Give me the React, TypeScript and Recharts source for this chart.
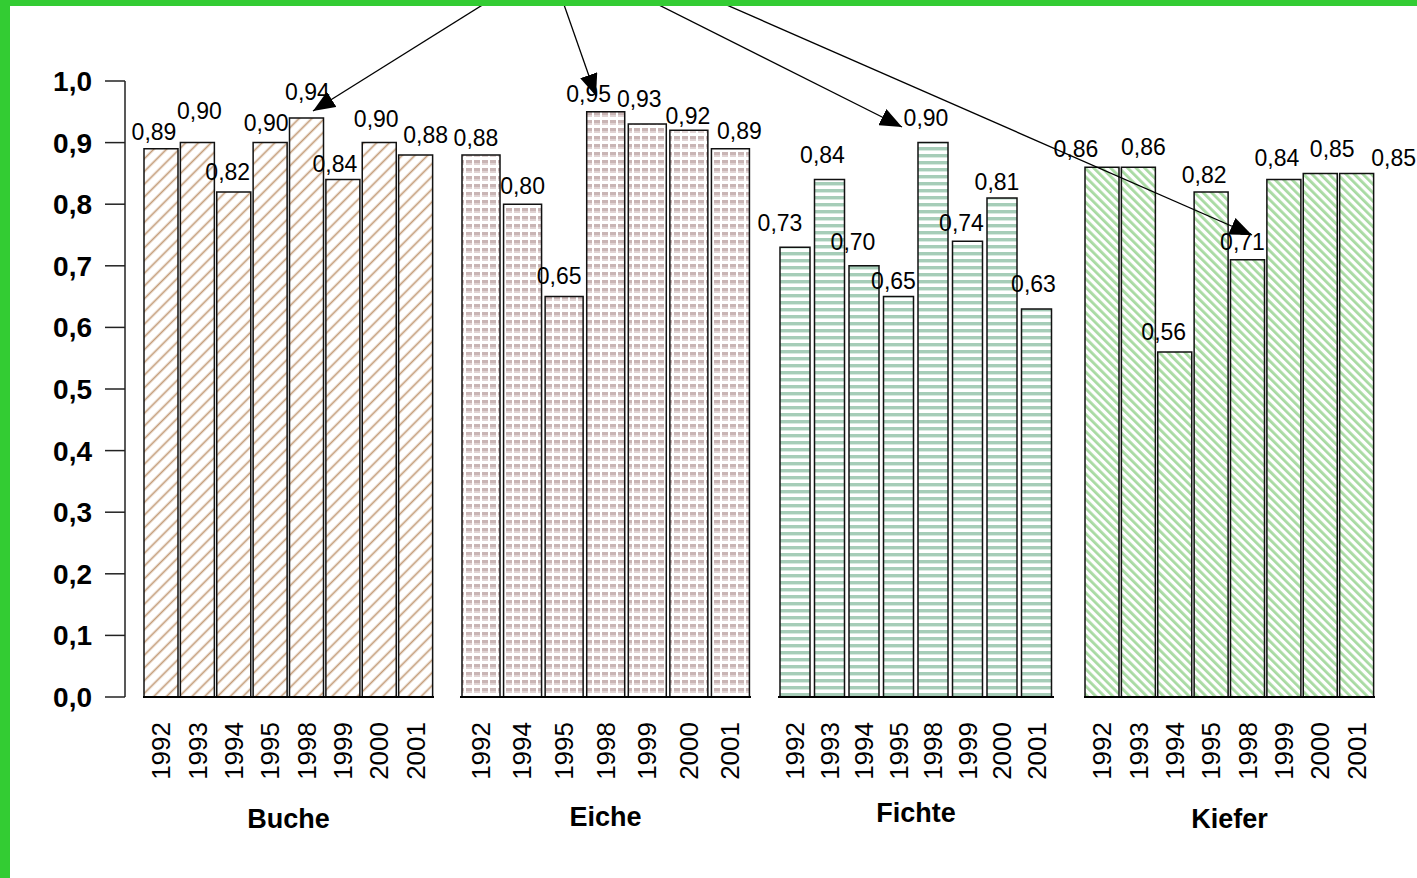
import React from 'react';
import { BarChart, Bar, XAxis, YAxis, LabelList, Label } from 'recharts';

// ---------------- data ----------------
const yTicks = [0, 0.1, 0.2, 0.3, 0.4, 0.5, 0.6, 0.7, 0.8, 0.9, 1.0];

const bucheYears = ['1992', '1993', '1994', '1995', '1998', '1999', '2000', '2001'];
const bucheValues = [0.89, 0.90, 0.82, 0.90, 0.94, 0.84, 0.90, 0.88];

const eicheYears = ['1992', '1994', '1995', '1998', '1999', '2000', '2001'];
const eicheValues = [0.88, 0.80, 0.65, 0.95, 0.93, 0.92, 0.89];

const fichteYears = ['1992', '1993', '1994', '1995', '1998', '1999', '2000', '2001'];
const fichteValues = [0.73, 0.84, 0.70, 0.65, 0.90, 0.74, 0.81, 0.63];

const kieferYears = ['1992', '1993', '1994', '1995', '1998', '1999', '2000', '2001'];
const kieferValues = [0.86, 0.86, 0.56, 0.82, 0.71, 0.84, 0.85, 0.85];

const groupNames = ['Buche', 'Eiche', 'Fichte', 'Kiefer'];

// ---------------- layout ----------------
const FONT = '"Liberation Sans", Arial, sans-serif';
const W = 1417;
const H = 878;
const PLOT_TOP = 81;
const X_AXIS_H = 135;
const BOTTOM = 46;
const SIDE = 50; // extra room at each side of a group so value labels are not clipped
const LABEL_GAP = 13;

// value-label nudges (as placed in the original figure)
const bucheNudge = { dx: [-7, 2, -6, -4, 1, -8, -3, 10], dy: [4, -11, 1, 1, -5, 5, -3, 1] };
const eicheNudge = { dx: [-5, 0, -5, -17, -8, -1, 9], dy: [4, 3, 0, 3, -4, 7, 3] };
const fichteNudge = { dx: [-15, -7, -11, -5, -7, -6, -5, -3], dy: [-3, -4, -3, 5, -4, 3, 5, -4] };
const kieferNudge = { dx: [-26, 5, -11, -7, -5, -7, 12, 37], dy: [3, 1, 1, 4, 3, -1, -3, 6] };

const groups = [
  { name: groupNames[0], years: bucheYears, values: bucheValues, nudge: bucheNudge, left: 143, width: 291, barSize: 34, labelOffset: 4, fill: 'url(#pBuche)' },
  { name: groupNames[1], years: eicheYears, values: eicheValues, nudge: eicheNudge, left: 460, width: 291, barSize: 38, labelOffset: 6, fill: 'url(#pEiche)' },
  { name: groupNames[2], years: fichteYears, values: fichteValues, nudge: fichteNudge, left: 778, width: 276, barSize: 30, labelOffset: 10, fill: 'url(#pFichte)' },
  { name: groupNames[3], years: kieferYears, values: kieferValues, nudge: kieferNudge, left: 1084, width: 291, barSize: 34, labelOffset: 4, fill: 'url(#pKiefer)' },
];

// annotation arrows (drawn on top of the chart)
const arrows = [
  { x1: 492, y1: -1, x2: 313, y2: 111 },
  { x1: 562, y1: -1, x2: 596, y2: 96 },
  { x1: 647, y1: -1, x2: 902, y2: 127 },
  { x1: 713, y1: -1, x2: 1252, y2: 235 },
];

const fmt2 = (v: any) => Number(v).toFixed(2).replace('.', ',');
const fmt1 = (v: any) => Number(v).toFixed(1).replace('.', ',');

const YearTick = (props: any) => {
  const { x, y, payload } = props;
  return (
    <text
      transform={`translate(${x + 9},${y + 25}) rotate(-90)`}
      textAnchor="end"
      fontSize={26}
      fontFamily={FONT}
      fill="#000"
    >
      {payload.value}
    </text>
  );
};

const makeValueLabel = (nudge: { dx: number[]; dy: number[] }) => (props: any) => {
  const vb = props.viewBox && props.viewBox.width !== undefined ? props.viewBox : props;
  const idx = typeof props.index === 'number' ? props.index : 0;
  const cx = Number(vb.x) + Number(vb.width) / 2 + (nudge.dx[idx] || 0);
  const top = Number(vb.y);
  return (
    <text
      x={cx}
      y={top - LABEL_GAP + (nudge.dy[idx] || 0)}
      textAnchor="middle"
      fontSize={23}
      fontFamily={FONT}
      fill="#000"
    >
      {fmt2(props.value)}
    </text>
  );
};

const Patterns = () => (
  <svg width={0} height={0} style={{ position: 'absolute', left: 0, top: 0 }}>
    <defs>
      <pattern id="pBuche" width={9} height={9} patternUnits="userSpaceOnUse" patternTransform="rotate(45)">
        <rect width={9} height={9} fill="#fff" />
        <line x1={4.5} y1={0} x2={4.5} y2={9} stroke="#c39c78" strokeWidth={1.7} />
      </pattern>
      <pattern id="pEiche" width={8} height={8} patternUnits="userSpaceOnUse">
        <rect width={8} height={8} fill="#fff" />
        <rect x={0} y={0} width={6} height={3} fill="#c9b5b5" />
        <rect x={0} y={3} width={6} height={2} fill="#e0d3d3" />
      </pattern>
      <pattern id="pFichte" width={6} height={7} patternUnits="userSpaceOnUse">
        <rect width={6} height={7} fill="#fff" />
        <rect x={0} y={0} width={6} height={3} fill="#a6cdb8" />
        <rect x={0} y={3} width={6} height={1} fill="#d8eae0" />
      </pattern>
      <pattern id="pKiefer" width={6} height={6} patternUnits="userSpaceOnUse" patternTransform="rotate(-45)">
        <rect width={6} height={6} fill="#fff" />
        <rect x={0} y={0} width={2.8} height={6} fill="#a8daa2" />
      </pattern>
    </defs>
  </svg>
);

const YAxisChart = () => {
  const rows = bucheYears.map((year, i) => ({ year, v: bucheValues[i] }));
  return (
    <div style={{ position: 'absolute', left: 0, top: 0 }}>
      <BarChart
        width={145}
        height={H}
        data={rows}
        margin={{ top: PLOT_TOP, right: 0, bottom: BOTTOM + X_AXIS_H, left: 0 }}
      >
        <XAxis dataKey="year" hide />
        <YAxis
          type="number"
          domain={[0, 1]}
          allowDataOverflow={true}
          ticks={yTicks}
          interval={0}
          width={125}
          tickSize={20}
          tickMargin={13}
          tickFormatter={fmt1}
          axisLine={{ stroke: '#222', strokeWidth: 1.5 }}
          tickLine={{ stroke: '#222', strokeWidth: 1.5 }}
          tick={{ fill: '#000', fontSize: 28, fontWeight: 'bold', fontFamily: FONT }}
        />
        <Bar dataKey="v" hide isAnimationActive={false} />
      </BarChart>
    </div>
  );
};

const GroupChart = ({ g }: { g: any }) => {
  const rows = g.years.map((year: string, i: number) => ({ year, v: g.values[i] }));
  return (
    <div style={{ position: 'absolute', left: g.left - SIDE, top: 0 }}>
      <BarChart
        width={g.width + 2 * SIDE}
        height={H}
        data={rows}
        margin={{ top: PLOT_TOP, right: SIDE, bottom: BOTTOM, left: SIDE }}
      >
        <XAxis
          dataKey="year"
          height={X_AXIS_H}
          interval={0}
          tickLine={false}
          tickSize={0}
          tickMargin={0}
          axisLine={{ stroke: '#000', strokeWidth: 2 }}
          tick={<YearTick />}
        >
          <Label
            value={g.name}
            position="insideBottom"
            offset={g.labelOffset}
            fill="#000"
            fontSize={27}
            fontWeight="bold"
            fontFamily={FONT}
          />
        </XAxis>
        <YAxis hide type="number" domain={[0, 1]} />
        <Bar
          dataKey="v"
          fill={g.fill}
          stroke="#111"
          strokeWidth={1.5}
          barSize={g.barSize}
          isAnimationActive={false}
        >
          <LabelList dataKey="v" content={makeValueLabel(g.nudge)} />
        </Bar>
      </BarChart>
    </div>
  );
};

export default function App() {
  return (
    <div
      style={{
        position: 'absolute',
        left: 0,
        top: 0,
        width: W,
        height: H,
        background: '#fff',
        overflow: 'hidden',
        fontFamily: FONT,
      }}
    >
      <Patterns />
      <YAxisChart />
      {groups.map((g) => (
        <GroupChart key={g.name} g={g} />
      ))}
      <svg width={W} height={H} style={{ position: 'absolute', left: 0, top: 0, pointerEvents: 'none' }}>
        <defs>
          <marker
            id="arrowHead"
            markerUnits="userSpaceOnUse"
            markerWidth={22}
            markerHeight={18}
            refX={22}
            refY={9}
            orient="auto"
          >
            <path d="M0,0 L22,9 L0,18 Z" fill="#000" />
          </marker>
        </defs>
        {arrows.map((a, i) => (
          <line
            key={i}
            x1={a.x1}
            y1={a.y1}
            x2={a.x2}
            y2={a.y2}
            stroke="#000"
            strokeWidth={1.3}
            markerEnd="url(#arrowHead)"
          />
        ))}
      </svg>
      <div style={{ position: 'absolute', left: 0, top: 0, width: 10, height: H, background: '#33cc33' }} />
      <div style={{ position: 'absolute', left: 0, top: 0, width: W, height: 6, background: '#33cc33' }} />
    </div>
  );
}
